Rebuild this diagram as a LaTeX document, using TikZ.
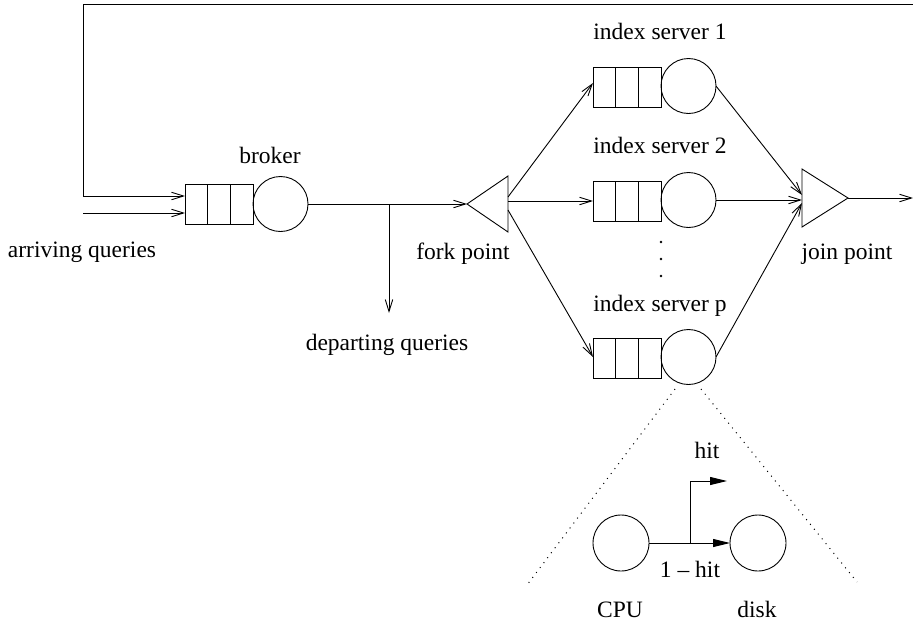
\documentclass[tikz,border=0pt]{standalone}
\usepackage{fontspec}
\setmainfont{Liberation Serif}
\usetikzlibrary{arrows.meta,calc}
\newcommand{\lblfont}{\fontsize{23.5}{28}\selectfont}
\begin{document}
\begin{tikzpicture}[x=1pt,y=-1pt,line width=0.9pt,
  queuebox/.style={draw, rectangle, minimum width=68pt, minimum height=40pt, inner sep=0pt, outer sep=0pt,
    path picture={
      \draw ([xshift=22.67pt]path picture bounding box.north west) -- ([xshift=22.67pt]path picture bounding box.south west);
      \draw ([xshift=45.33pt]path picture bounding box.north west) -- ([xshift=45.33pt]path picture bounding box.south west);
    }},
  srv/.style={draw, circle, minimum size=55pt, inner sep=0pt, outer sep=0pt},
  bigsrv/.style={draw, circle, minimum size=56pt, inner sep=0pt, outer sep=0pt},
  lbl/.style={font=\lblfont, inner sep=0pt, anchor=base},
  arr/.style={-{Straight Barb[length=12pt,width=7.5pt,line width=0.9pt]}},
  farr/.style={-{Triangle[length=17pt,width=8pt]}},
  dotline/.style={line width=1pt, dash pattern=on 1pt off 5.2pt}
]
\useasboundingbox (0,0) rectangle (913,622);

% broker
\node[queuebox] (bq) at (219,204) {};
\node[srv] (bc) at (280.5,204) {};
\node[lbl] (lbroker) at (270,163) {broker};

% fork triangle
\coordinate (ftip) at (467,204);
\coordinate (ftop) at (508,176);
\coordinate (fbot) at (508,232);
\draw (ftip) -- (ftop) -- (fbot) -- cycle;
\node[lbl] (lfork) at (463,259) {fork point};

% index servers
\node[queuebox] (s1q) at (627,87) {};
\node[srv] (s1c) at (688.5,86) {};
\node[lbl] (ls1) at (660,39) {index server 1};

\node[queuebox] (s2q) at (627,201) {};
\node[srv] (s2c) at (688.5,200) {};
\node[lbl] (ls2) at (660,153) {index server 2};

\node[queuebox] (spq) at (627,358) {};
\node[srv] (spc) at (688.5,357) {};
\node[lbl] (lsp) at (660,311) {index server p};

% vertical dots
\fill (661,242) circle (1.3pt);
\fill (661,259) circle (1.3pt);
\fill (661,276) circle (1.3pt);

% join triangle
\coordinate (jtop) at (802,169);
\coordinate (jbot) at (802,227);
\coordinate (jtip) at (848,198);
\draw (jtop) -- (jtip) -- (jbot) -- cycle;
\node[lbl] (ljoin) at (847,259) {join point};
\coordinate (jin1) at (802,195);
\coordinate (jin2) at (802,200);
\coordinate (jin3) at (802,203);
\coordinate (outR) at (913,198);

% feedback loop and arrivals
\coordinate (topR) at (913,4);
\coordinate (topL) at (83,4);
\coordinate (fbL) at (83,196);
\coordinate (arrL) at (83,213);
\draw[arr] (topR) -- (topL) -- (fbL) -- (bq.west |- fbL);
\draw[arr] (arrL) -- (bq.west |- arrL);
\node[lbl] (larr) at (82,257) {arriving queries};

% broker to fork, departing
\coordinate (dep) at (389,204);
\coordinate (depend) at (389,313);
\draw[arr] (bc.east) -- (ftip);
\draw[arr] (dep) -- (depend);
\node[lbl] (ldep) at (387,350) {departing queries};

% fork to servers
\coordinate (fo1) at (508,197);
\coordinate (fo2) at (508,201);
\coordinate (fo3) at (508,210);
\draw[arr] (fo1) -- ([yshift=4pt]s1q.west);
\draw[arr] (fo2) -- (s2q.west);
\draw[arr] (fo3) -- ([yshift=1pt]spq.west);

% servers to join
\draw[arr] (s1c.east) -- (jin1);
\draw[arr] (s2c.east) -- (jin2);
\draw[arr] (spc.east) -- (jin3);
\draw[arr] (jtip) -- (outR);

% zoomed detail
\coordinate (dl1) at (675,389);
\coordinate (dl2) at (527,585);
\coordinate (dr1) at (701,389);
\coordinate (dr2) at (857,582);
\draw[dotline] (dl1) -- (dl2);
\draw[dotline] (dr1) -- (dr2);

\node[bigsrv] (cpu) at (621,543) {};
\node[bigsrv] (disk) at (758,543) {};
\coordinate (br) at (690,543);
\coordinate (hitend) at (727,481);
\draw[farr] (cpu.east) -- (disk.west);
\draw[farr] (br) |- (hitend);
\node[lbl] (lhit) at (707,458) {hit};
\node[lbl] (lmiss) at (690,577) {1 – hit};
\node[lbl] (lcpu) at (620,617) {CPU};
\node[lbl] (ldisk) at (757,617) {disk};
\end{tikzpicture}
\end{document}
